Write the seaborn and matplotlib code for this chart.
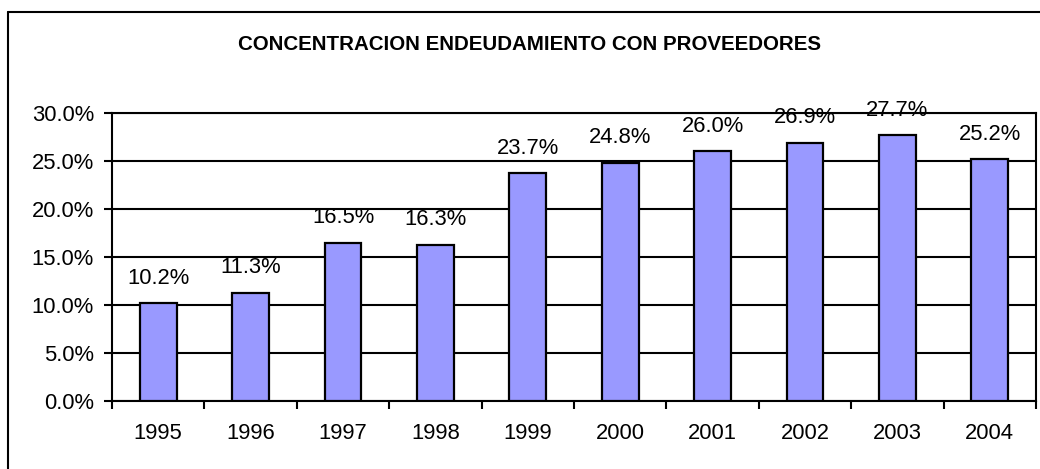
import matplotlib
matplotlib.use("Agg")
import matplotlib.pyplot as plt
import seaborn as sns
import pandas as pd
from matplotlib.lines import Line2D
from matplotlib.ticker import FixedLocator, PercentFormatter

years = ["1995", "1996", "1997", "1998", "1999", "2000", "2001", "2002", "2003", "2004"]
values = [0.102, 0.113, 0.165, 0.163, 0.237, 0.248, 0.260, 0.269, 0.277, 0.252]
labels = ["10.2%", "11.3%", "16.5%", "16.3%", "23.7%", "24.8%", "26.0%", "26.9%", "27.7%", "25.2%"]
title = "CONCENTRACION ENDEUDAMIENTO CON PROVEEDORES"

sns.set_theme(style="white")
plt.rcParams["font.family"] = ["Liberation Sans", "DejaVu Sans"]

df = pd.DataFrame({"year": years, "value": values})

fig = plt.figure(figsize=(10.4, 4.69), dpi=100)
ax = fig.add_axes([112/1040, 1-401/469, (1036-112)/1040, (401-113)/469])

sns.barplot(data=df, x="year", y="value", order=years, color="#9999FF",
            saturation=1, edgecolor="black", linewidth=1.6, width=0.4, ax=ax, zorder=3)

ax.set_ylim(0, 0.30)
ax.set_xlim(-0.5, len(years)-0.5)
ax.set_yticks([0, 0.05, 0.10, 0.15, 0.20, 0.25, 0.30])
ax.yaxis.set_major_formatter(PercentFormatter(1.0, decimals=1))
ax.grid(axis="y", color="black", linewidth=1.5, zorder=0)
ax.set_axisbelow(True)
ax.set_xlabel("")
ax.set_ylabel("")

for s in ax.spines.values():
    s.set_color("black")
    s.set_linewidth(1.5)
    s.set_visible(True)

ax.tick_params(axis="y", direction="out", length=6, width=1.5, color="black",
               labelsize=15.8, pad=7, left=True, labelcolor="black")
ax.tick_params(axis="x", which="major", length=0, labelsize=15.8, pad=16, labelcolor="black")
ax.xaxis.set_minor_locator(FixedLocator([i - 0.5 for i in range(len(years)+1)]))
ax.tick_params(axis="x", which="minor", direction="out", length=6, width=1.5,
               color="black", bottom=True)

for i, (v, lab) in enumerate(zip(values, labels)):
    ax.annotate(lab, xy=(i, v), xytext=(0, 18), textcoords="offset points",
                ha="center", va="center", fontsize=15.8, color="black",
                annotation_clip=False, zorder=5)

fig.text(529/1040, 1-44/469, title, ha="center", va="center",
         fontsize=14.8, fontweight="bold", color="black")

# outer chart frame (clipped at right and bottom)
fig.add_artist(Line2D([8/1040, 8/1040], [1-12/469, -0.01], color="black",
                      linewidth=1.5, transform=fig.transFigure))
fig.add_artist(Line2D([8/1040, 1.01], [1-12/469, 1-12/469], color="black",
                      linewidth=1.5, transform=fig.transFigure))

fig.savefig("out.png", dpi=100, facecolor="white")
